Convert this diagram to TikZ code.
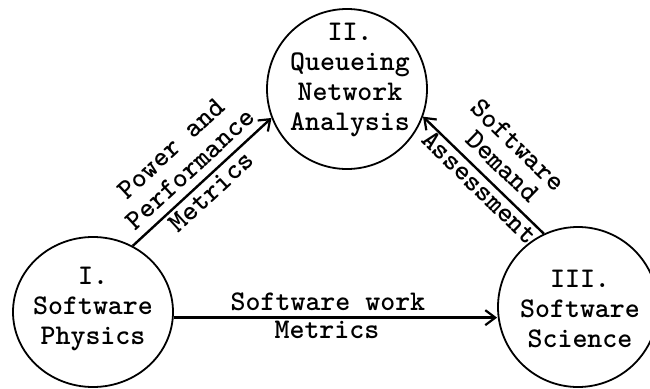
\documentclass[tikz,border=0pt]{standalone}
\usetikzlibrary{arrows.meta,shapes.geometric}
\begin{document}
\begin{tikzpicture}[x=1pt,y=-1pt,
  station/.style={draw, ellipse, line width=1.8pt, inner sep=0pt},
  txt/.style={font=\ttfamily\bfseries\fontsize{28.5}{30}\selectfont, align=center, inner sep=0pt},
  lbl/.style={font=\ttfamily\bfseries\fontsize{28.5}{30}\selectfont, inner sep=0pt, anchor=base},
  flow/.style={line width=2.4pt, -{Straight Barb[length=10pt,width=15pt,line width=2.2pt]}}]
\useasboundingbox (0,0) rectangle (650,388);
\node[station, minimum width=160pt, minimum height=160pt] (II) at (347,89) {};
\node[station, minimum width=160pt, minimum height=150pt] (I) at (93,312) {};
\node[station, minimum width=160pt, minimum height=160pt] (III) at (578,307) {};
\node[txt] (IIt) at (350,80) {II.\\Queueing\\Network\\Analysis};
\node[txt] (It) at (93,309) {I.\\Software\\Physics};
\node[txt] (IIIt) at (580,309) {III.\\Software\\Science};
\draw[flow] (I.59) -- (II.201)
  node[lbl, pos=0.5, sloped, yshift=37pt] (pa) {Power and}
  node[lbl, pos=0.5, sloped, yshift=9pt] (pf) {Performance}
  node[lbl, pos=0.5, sloped, yshift=-22pt] (pm) {Metrics};
\draw[flow] (III.115) -- (II.340)
  node[lbl, pos=0.475, sloped, yshift=37pt] (sd1) {Software}
  node[lbl, pos=0.455, sloped, yshift=11pt] (sd2) {Demand}
  node[lbl, pos=0.465, sloped, yshift=-20pt] (sd3) {Assessment};
\draw[flow] (I.356) -- (III.west |- I.356)
  node[lbl, pos=0.477, yshift=7pt] (sw) {Software work}
  node[lbl, pos=0.474, yshift=-21pt] (sm) {Metrics};
\end{tikzpicture}
\end{document}
